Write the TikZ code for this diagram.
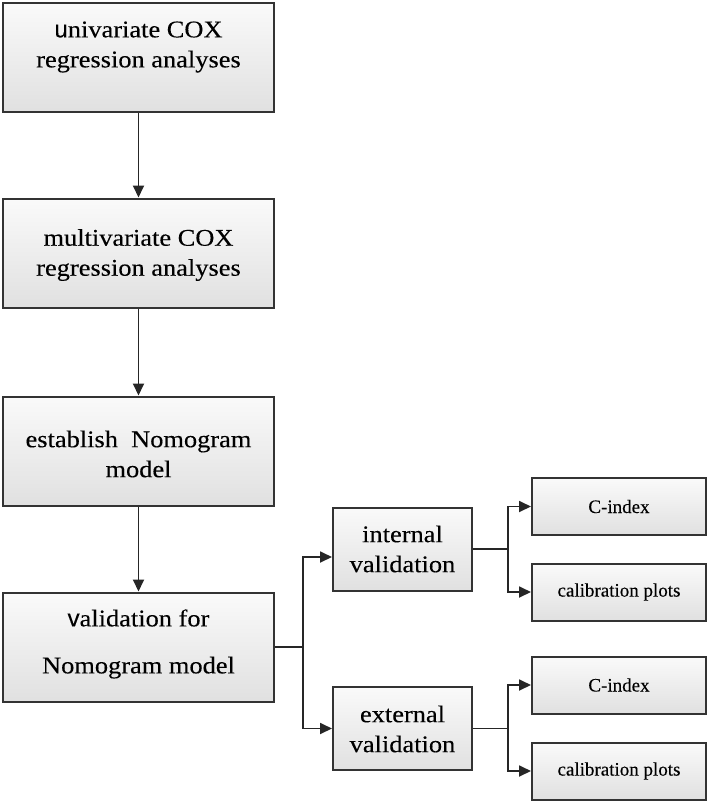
\documentclass[tikz,border=0pt]{standalone}
\usepackage{fontspec}
\setmainfont[FakeBold=0.2]{Liberation Serif}
\newfontfamily\bigserif[FakeStretch=1.1,FakeBold=0.2]{Liberation Serif}
\newfontfamily\sansletter[FakeBold=0.2]{Liberation Sans}
\usetikzlibrary{arrows.meta,calc,shadows}

\tikzset{
  box/.style={draw=black!80, line width=2pt, top color=gray!4, bottom color=gray!24,
    inner sep=0pt, rectangle,
    drop shadow={shadow xshift=1.2pt, shadow yshift=-1.2pt, opacity=0.25}},
  bigbox/.style={box, minimum width=271pt, minimum height=109pt},
  midbox/.style={box, minimum width=139pt, minimum height=83pt},
  smallbox/.style={box, minimum width=174pt, minimum height=57pt,
    font=\fontsize{19}{22}\selectfont},
  bigtxt/.style={font=\bigserif\fontsize{24}{30}\selectfont, align=center, inner sep=0pt},
  ln/.style={line width=1.8pt, draw=black!85},
  arr/.style={ln, -{Triangle[length=12pt,width=11pt]}},
}

\begin{document}
\begin{tikzpicture}[x=1pt,y=-1pt]
\useasboundingbox (0,0) rectangle (708,803);

% main column
\node[bigbox] (b1) at (138.5,57.5) {};
\node[bigbox] (b2) at (138.5,253) {};
\node[bigbox] (b3) at (138.5,451) {};
\node[bigbox] (b4) at (138.5,647) {};

\node[bigtxt] (t1) at (138.5,47) {{\sansletter u}nivariate COX\\regression analyses};
\node[bigtxt] (t2) at (138.5,255) {multivariate COX\\regression analyses};
\node[bigtxt] (t3) at (138.5,454) {establish\ \ Nomogram\\model};
\node[bigtxt, font=\bigserif\fontsize{24}{47}\selectfont] (t4) at (138.5,644) {{\sansletter v}alidation for\\Nomogram model};

% validation boxes
\node[midbox] (int) at (402.5,549) {};
\node[bigtxt] (ti) at (402.5,549) {internal\\validation};
\node[midbox] (ext) at (402.5,728.5) {};
\node[bigtxt] (te) at (402.5,729) {external\\validation};

% result boxes
\node[smallbox] (c1) at (619,506.5) {C-index};
\node[smallbox] (p1) at (619,592) {calibration plots};
\node[smallbox] (c2) at (619,685) {C-index};
\node[smallbox] (p2) at (619,771) {calibration plots};

% connectors
\draw[arr] (b1) -- (b2);
\draw[arr] (b2) -- (b3);
\draw[arr] (b3) -- (b4);

\coordinate (j1) at (303,647);
\coordinate (j2) at (508,549);
\coordinate (j3) at (508,728.5);

\draw[ln] (b4.east) -- (j1);
\draw[arr] (j1) |- ($(int.west)+(0,8)$);
\draw[arr] (j1) |- (ext.west);

\draw[ln] (int.east) -- (j2);
\draw[arr] (j2) |- (c1.west);
\draw[arr] (j2) |- (p1.west);

\draw[ln] (ext.east) -- (j3);
\draw[arr] (j3) |- (c2.west);
\draw[arr] (j3) |- (p2.west);
\end{tikzpicture}
\end{document}
